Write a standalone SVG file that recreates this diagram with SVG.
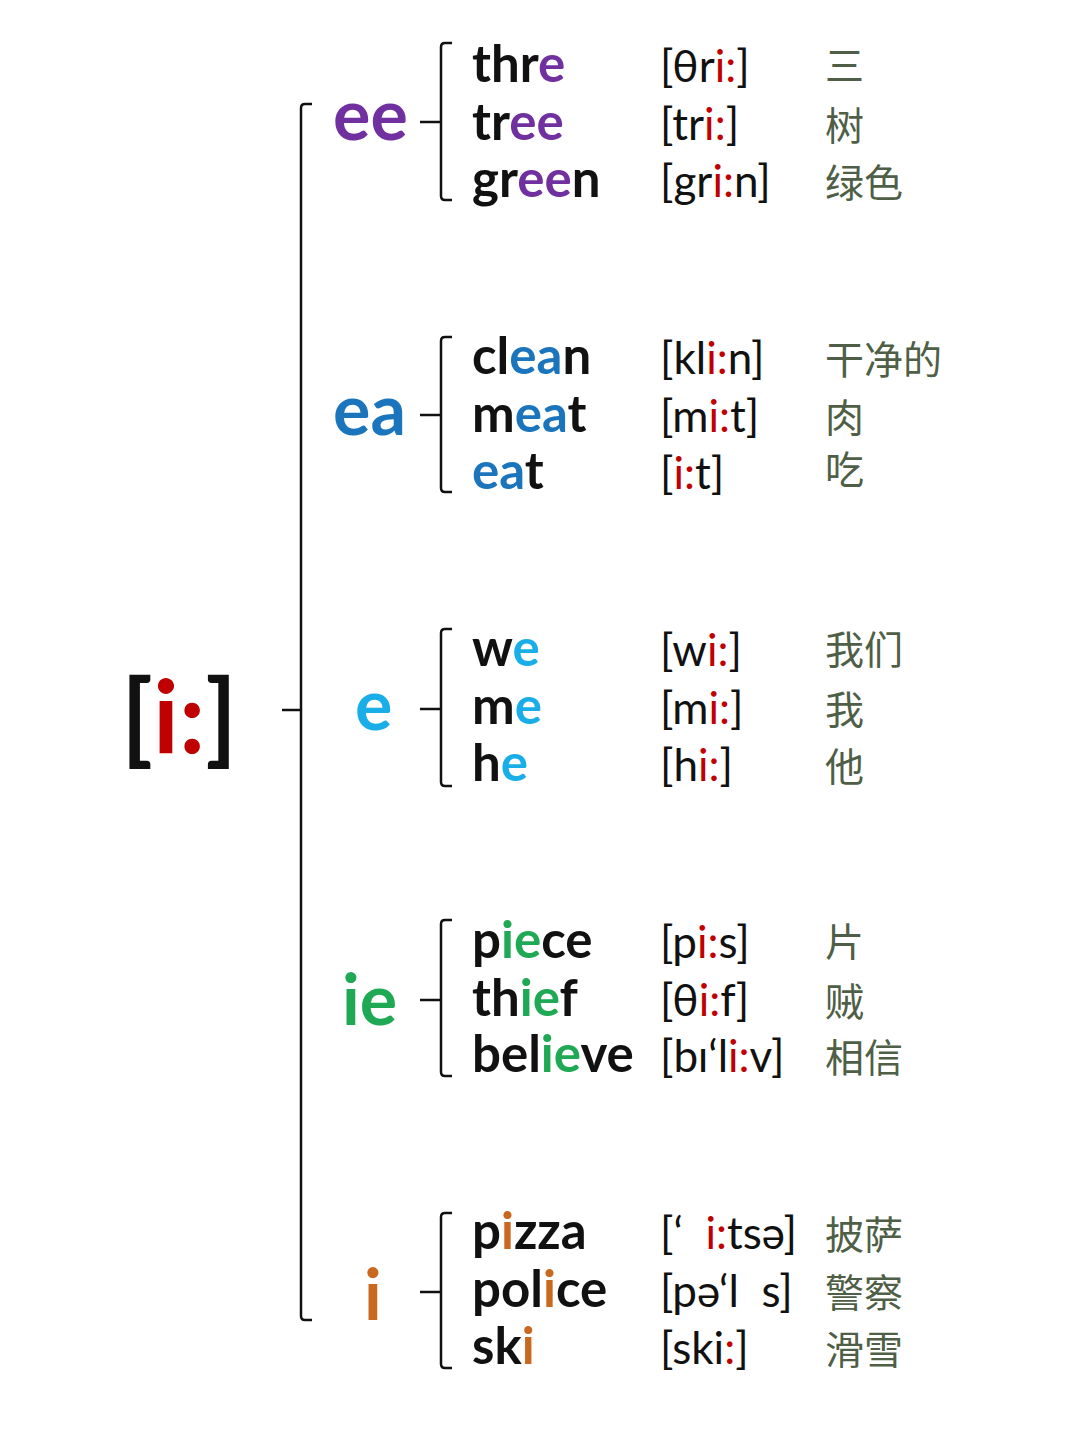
<svg xmlns="http://www.w3.org/2000/svg" width="1080" height="1438" viewBox="0 0 1080 1438">
<style>
.w{font-family:Lato,"Liberation Sans",sans-serif;font-weight:700;font-size:51px;fill:#111}
.p{font-family:Lato,"Noto Sans","DejaVu Sans",sans-serif;font-weight:400;font-size:44px;fill:#111}
.c{font-family:"Noto Sans CJK SC",sans-serif;font-size:39px;fill:#4f5f47}
.g{font-family:Lato,"Liberation Sans",sans-serif;font-weight:700;font-size:70px}
.r{fill:#c00000}
.pu{fill:#7030a0}.bl{fill:#1b75bc}.lb{fill:#1aaee8}.gr{fill:#20a955}.or{fill:#c9681f}
.ln{fill:none;stroke:#111;stroke-width:2.5}
</style>
<rect width="1080" height="1438" fill="#fff"/>
<g id="connectors">
<path class="ln" d="M312,104 H305 Q301,104 301,108 V1316 Q301,1320 305,1320 H312"/>
<path class="ln" d="M282,710 H301"/>
<path class="ln" d="M452,43 H445 Q441,43 441,47 V196 Q441,200 445,200 H452 M420,122 H441"/>
<path class="ln" d="M452,337 H445 Q441,337 441,341 V488 Q441,492 445,492 H452 M420,415 H441"/>
<path class="ln" d="M452,629 H445 Q441,629 441,633 V782 Q441,786 445,786 H452 M420,709 H441"/>
<path class="ln" d="M452,920 H445 Q441,920 441,924 V1072 Q441,1076 445,1076 H452 M420,1000 H441"/>
<path class="ln" d="M452,1213 H445 Q441,1213 441,1217 V1364 Q441,1368 445,1368 H452 M420,1292 H441"/>
</g>
<g id="root"><text x="121" y="753" style="font-family:Lato,'Liberation Sans',sans-serif;font-weight:700;font-size:102px;fill:#111">[<tspan fill="#c00000">i:</tspan>]</text></g>
<g id="ee">
<text class="g pu" x="333" y="140">ee</text>
<text class="w" x="472" y="82">thr<tspan class="pu">e</tspan></text>
<text class="w" x="472" y="140">tr<tspan class="pu">ee</tspan></text>
<text class="w" x="472" y="197">gr<tspan class="pu">ee</tspan>n</text>
<text class="p" x="660" y="82">[θr<tspan class="r">i:</tspan>]</text>
<text class="p" x="660" y="140">[tr<tspan class="r">i:</tspan>]</text>
<text class="p" x="660" y="197">[gr<tspan class="r">i:</tspan>n]</text>
<text class="c" x="825" y="80">三</text>
<text class="c" x="825" y="140">树</text>
<text class="c" x="825" y="197">绿色</text>
</g>
<g id="ea">
<text class="g bl" x="333" y="435">ea</text>
<text class="w" x="472" y="374">cl<tspan class="bl">ea</tspan>n</text>
<text class="w" x="472" y="432">m<tspan class="bl">ea</tspan>t</text>
<text class="w" x="472" y="489"><tspan class="bl">ea</tspan>t</text>
<text class="p" x="660" y="374">[kl<tspan class="r">i:</tspan>n]</text>
<text class="p" x="660" y="432">[m<tspan class="r">i:</tspan>t]</text>
<text class="p" x="660" y="489">[<tspan class="r">i:</tspan>t]</text>
<text class="c" x="825" y="374">干净的</text>
<text class="c" x="825" y="432">肉</text>
<text class="c" x="825" y="484">吃</text>
</g>
<g id="e">
<text class="g lb" x="355" y="730">e</text>
<text class="w" x="472" y="666">w<tspan class="lb">e</tspan></text>
<text class="w" x="472" y="724">m<tspan class="lb">e</tspan></text>
<text class="w" x="472" y="781">h<tspan class="lb">e</tspan></text>
<text class="p" x="660" y="666">[w<tspan class="r">i:</tspan>]</text>
<text class="p" x="660" y="724">[m<tspan class="r">i:</tspan>]</text>
<text class="p" x="660" y="781">[h<tspan class="r">i:</tspan>]</text>
<text class="c" x="825" y="664">我们</text>
<text class="c" x="825" y="724">我</text>
<text class="c" x="825" y="781">他</text>
</g>
<g id="ie">
<text class="g gr" x="342" y="1025">ie</text>
<text class="w" x="472" y="958">p<tspan class="gr">ie</tspan>ce</text>
<text class="w" x="472" y="1016">th<tspan class="gr">ie</tspan>f</text>
<text class="w" x="472" y="1072">bel<tspan class="gr">ie</tspan>ve</text>
<text class="p" x="660" y="958">[p<tspan class="r">i:</tspan>s]</text>
<text class="p" x="660" y="1016">[θ<tspan class="r">i:</tspan>f]</text>
<text class="p" x="660" y="1072">[bɪ‘l<tspan class="r">i:</tspan>v]</text>
<text class="c" x="825" y="956">片</text>
<text class="c" x="825" y="1016">贼</text>
<text class="c" x="825" y="1072">相信</text>
</g>
<g id="i">
<text class="g or" x="364" y="1320">i</text>
<text class="w" x="472" y="1249">p<tspan class="or">i</tspan>zza</text>
<text class="w" x="472" y="1307">pol<tspan class="or">i</tspan>ce</text>
<text class="w" x="472" y="1364">sk<tspan class="or">i</tspan></text>
<text class="p" x="660" y="1249" xml:space="preserve">[‘  <tspan class="r">i:</tspan>tsə]</text>
<text class="p" x="660" y="1307" xml:space="preserve">[pə‘l  s]</text>
<text class="p" x="660" y="1364">[sk<tspan fill="#111">i</tspan><tspan class="r">:</tspan>]</text>
<text class="c" x="825" y="1249">披萨</text>
<text class="c" x="825" y="1307">警察</text>
<text class="c" x="825" y="1364">滑雪</text>
</g>
</svg>
